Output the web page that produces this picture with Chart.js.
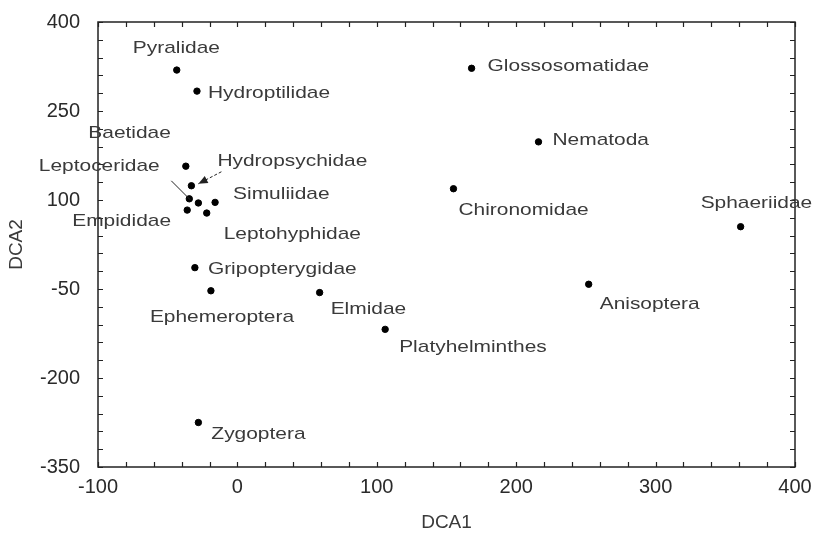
<!DOCTYPE html>
<html>
<head>
    <title>DCA ordination of taxa</title>
    <script src="https://cdn.jsdelivr.net/npm/chart.js"></script>
    <style>
        body { margin: 0; background: #fff; }
    </style>
</head>
<body>

<canvas id="dca_chart" width="829" height="534"></canvas>

<script>
// taxa scores on the first two DCA axes
const taxa = [
    'Pyralidae', 'Hydroptilidae', 'Glossosomatidae', 'Nematoda', 'Chironomidae',
    'Sphaeriidae', 'Leptoceridae', 'Hydropsychidae', 'Baetidae', '',
    'Simuliidae', 'Empididae', 'Leptohyphidae', 'Gripopterygidae', 'Ephemeroptera',
    'Elmidae', 'Platyhelminthes', 'Anisoptera', 'Zygoptera'
];
const dca1 = [-43.5, -29, 168, 216, 155, 361, -37, -33, -34.5, -28, -16, -36, -22, -30.5, -19, 59, 106, 252, -28];
const dca2 = [319, 283.5, 322, 198, 119, 55, 157, 124, 102, 95, 96, 83, 78, -14, -53, -56, -118, -42, -275];

// where each name sits relative to its point (px)
const labelOffsets = [
    [-44, -22], [11, 2], [16, -2], [14, -2], [5, 22],
    [-40, -23], [-147, 0], [26, -24], [-101, -66], [0, 0],
    [18, -8], [-115, 11], [17, 21], [13, 2], [-61, 27],
    [11, 17], [14, 18], [11, 20], [13, 12]
];
// leader lines: [point index, start offset, end offset, arrow head?]
const leaders = [
    [7, [30, -14], [7, -2], true],
    [8, [-18, -18], [1, 1], false]
];

const family = '"Liberation Sans", Arial, sans-serif';
const textColor = '#3a3a3a';

const decorations = {
    id: 'decorations',
    afterDatasetsDraw(chart) {
        const ctx = chart.ctx;
        const area = chart.chartArea;
        const xs = chart.scales.x, ys = chart.scales.y;
        ctx.save();

        // frame
        ctx.strokeStyle = '#222';
        ctx.lineWidth = 1.5;
        ctx.strokeRect(area.left, area.top, area.right - area.left, area.bottom - area.top);

        // inward ticks on all four sides
        ctx.lineWidth = 1.2;
        ctx.beginPath();
        for (let v = -100; v <= 400; v += 20) {
            const px = Math.round(xs.getPixelForValue(v)) + 0.5;
            ctx.moveTo(px, area.bottom); ctx.lineTo(px, area.bottom - 5);
            ctx.moveTo(px, area.top); ctx.lineTo(px, area.top + 5);
        }
        for (let v = -350; v <= 400; v += 30) {
            const py = Math.round(ys.getPixelForValue(v)) + 0.5;
            ctx.moveTo(area.left, py); ctx.lineTo(area.left + 5, py);
            ctx.moveTo(area.right, py); ctx.lineTo(area.right - 5, py);
        }
        ctx.stroke();

        // taxon names (the plotting font is a little wide, so stretch it)
        ctx.font = '17px ' + family;
        ctx.fillStyle = textColor;
        ctx.textBaseline = 'middle';
        ctx.textAlign = 'left';
        taxa.forEach((name, i) => {
            if (!name) return;
            const px = xs.getPixelForValue(dca1[i]) + labelOffsets[i][0];
            const py = ys.getPixelForValue(dca2[i]) + labelOffsets[i][1];
            ctx.save();
            ctx.translate(px, py);
            ctx.scale(1.23, 1);
            ctx.fillText(name, 0, 0);
            ctx.restore();
        });

        // leader lines into the crowded cluster
        ctx.strokeStyle = '#222';
        ctx.fillStyle = '#222';
        leaders.forEach(([i, from, to, head]) => {
            const cx = xs.getPixelForValue(dca1[i]);
            const cy = ys.getPixelForValue(dca2[i]);
            const x0 = cx + from[0], y0 = cy + from[1];
            const x1 = cx + to[0], y1 = cy + to[1];
            ctx.lineWidth = 1;
            ctx.setLineDash(head ? [3, 2] : []);
            ctx.beginPath();
            ctx.moveTo(x0, y0);
            ctx.lineTo(x1, y1);
            ctx.stroke();
            ctx.setLineDash([]);
            if (head) {
                const a = Math.atan2(y1 - y0, x1 - x0);
                ctx.beginPath();
                ctx.moveTo(x1, y1);
                ctx.lineTo(x1 - 10 * Math.cos(a - 0.4), y1 - 10 * Math.sin(a - 0.4));
                ctx.lineTo(x1 - 10 * Math.cos(a + 0.4), y1 - 10 * Math.sin(a + 0.4));
                ctx.closePath();
                ctx.fill();
            }
        });
        ctx.restore();
    }
};

document.addEventListener("DOMContentLoaded", function() {
    const ctx = document.getElementById('dca_chart').getContext('2d');
    const points = dca1.map((x, i) => ({ x: x, y: dca2[i] }));

    new Chart(ctx, {
        type: 'scatter',
        data: {
            datasets: [{
                label: 'Taxa',
                data: points,
                backgroundColor: '#000',
                borderColor: '#000',
                pointRadius: 3.2,
                pointHoverRadius: 3.2
            }]
        },
        options: {
            responsive: false,
            animation: false,
            layout: { padding: { top: 16, right: 34, left: 0, bottom: 0 } },
            scales: {
                x: {
                    min: -100,
                    max: 400,
                    afterFit: s => { s.height = 67; },
                    grid: { display: false },
                    border: { display: false },
                    ticks: {
                        stepSize: 100,
                        padding: 0,
                        color: '#2a2a2a',
                        font: { family: family, size: 20 }
                    },
                    title: {
                        display: true,
                        text: 'DCA1',
                        color: '#3a3a3a',
                        padding: { top: 0, bottom: 0 },
                        font: { family: family, size: 19 }
                    }
                },
                y: {
                    min: -350,
                    max: 400,
                    afterFit: s => { s.width = 98; },
                    grid: { display: false },
                    border: { display: false },
                    ticks: {
                        stepSize: 150,
                        padding: 10,
                        color: '#2a2a2a',
                        font: { family: family, size: 20 }
                    },
                    title: {
                        display: true,
                        text: 'DCA2',
                        color: '#3a3a3a',
                        padding: { top: 5, bottom: 0 },
                        font: { family: family, size: 19 }
                    }
                }
            },
            plugins: {
                legend: { display: false },
                tooltip: { enabled: false }
            }
        },
        plugins: [decorations]
    });
});
</script>

</body>
</html>
